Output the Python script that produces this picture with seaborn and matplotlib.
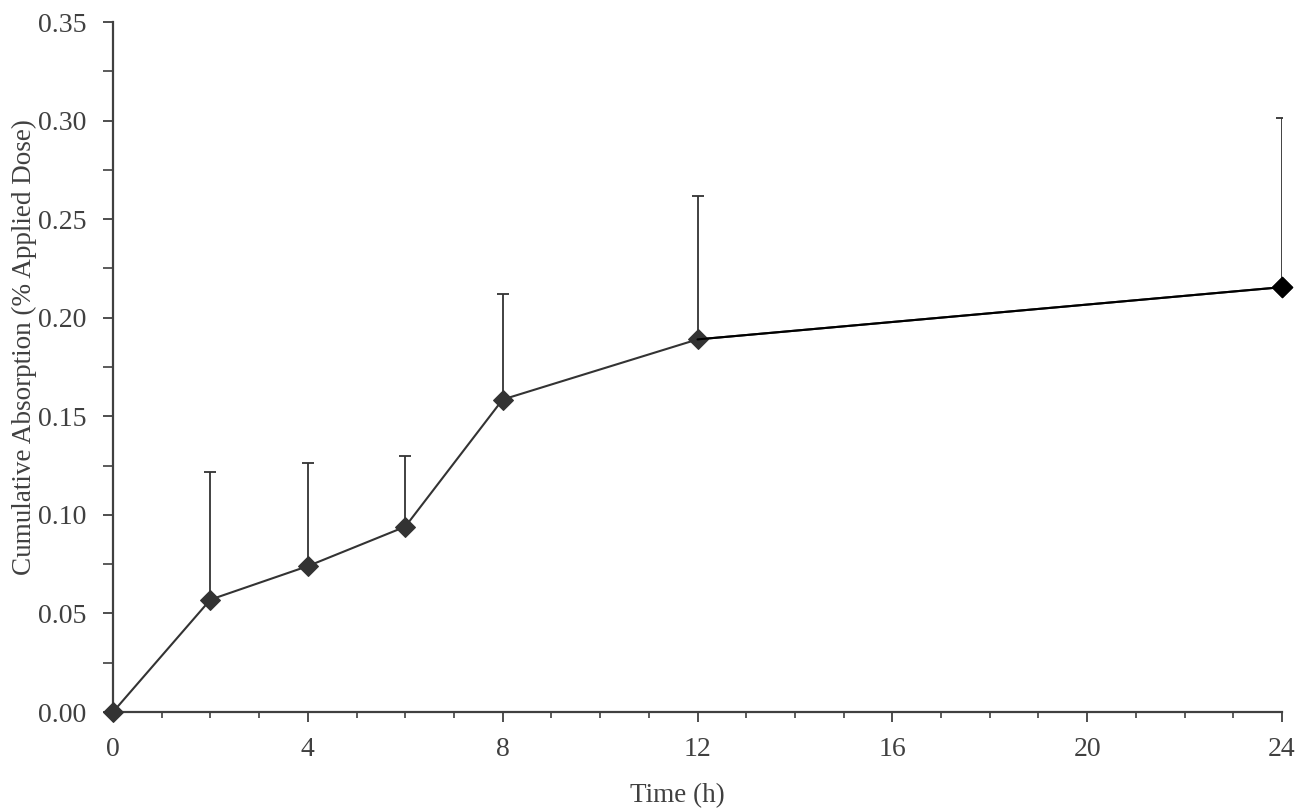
import matplotlib
matplotlib.use("Agg")
import matplotlib.pyplot as plt
from matplotlib.ticker import MultipleLocator, FixedLocator
import numpy as np
import pandas as pd
import seaborn as sns

# Data
time_h = [0, 2, 4, 6, 8, 12, 24]
absorption = [0.000, 0.0570, 0.0740, 0.0940, 0.1585, 0.1890, 0.2155]
upper_err_top = [0.000, 0.1218, 0.1262, 0.1300, 0.2118, 0.2618, 0.3015]
x_ticks = [0, 4, 8, 12, 16, 20, 24]
y_ticks = [0.00, 0.05, 0.10, 0.15, 0.20, 0.25, 0.30, 0.35]

df = pd.DataFrame({"Time (h)": time_h, "Absorption": absorption})
upper = np.array(upper_err_top) - np.array(absorption)
upper[upper < 0] = 0

sns.set_theme(style="white")
plt.rcParams["font.family"] = ["Liberation Serif", "DejaVu Serif"]

TXT = "#404040"
LINE = "#333333"

fig = plt.figure(figsize=(12.97, 8.08), dpi=100)
ax = fig.add_axes([113 / 1297, 96 / 808, (1282 - 113) / 1297, (712 - 22) / 808])

ax.errorbar(time_h, absorption, yerr=[np.zeros_like(upper), upper], fmt="none",
            ecolor=LINE, elinewidth=1.3, capsize=4.5, capthick=1.3, zorder=2)
sns.lineplot(data=df, x="Time (h)", y="Absorption", ax=ax, color=LINE,
             linewidth=1.5, marker="D", markersize=10.5, markeredgecolor=LINE,
             markerfacecolor=LINE, zorder=3, clip_on=False)
# last point appears pure black in the reference
sns.lineplot(data=df.iloc[-2:], x="Time (h)", y="Absorption", ax=ax, color="black",
             linewidth=1.5, zorder=3)
sns.scatterplot(data=df.iloc[-1:], x="Time (h)", y="Absorption", ax=ax, color="black",
                marker="D", s=110, edgecolor="black", zorder=4, clip_on=False)

ax.set_xlim(0, 24)
ax.set_ylim(0, 0.35)
ax.xaxis.set_major_locator(FixedLocator(x_ticks))
ax.xaxis.set_minor_locator(MultipleLocator(1))
ax.yaxis.set_major_locator(FixedLocator(y_ticks))
ax.yaxis.set_minor_locator(MultipleLocator(0.025))
ax.set_xticklabels([str(v) for v in x_ticks])
ax.set_yticklabels([f"{v:.2f}" for v in y_ticks])

for s in ["top", "right"]:
    ax.spines[s].set_visible(False)
for s in ["left", "bottom"]:
    ax.spines[s].set_color(TXT)
    ax.spines[s].set_linewidth(1.6)

ax.tick_params(axis="both", which="major", direction="out", length=7, width=1.3,
               colors=TXT, labelsize=20, labelcolor=TXT, bottom=True, left=True)
ax.tick_params(axis="x", which="major", pad=11)
ax.tick_params(axis="y", which="major", pad=12)
ax.tick_params(axis="x", which="minor", direction="out", length=4, width=1.2,
               colors=TXT, bottom=True)
ax.tick_params(axis="y", which="minor", direction="out", length=7, width=1.2,
               colors=TXT, left=True)

ax.set_xlabel("Time (h)", fontsize=19.5, color=TXT)
ax.set_ylabel("Cumulative Absorption (% Applied Dose)", fontsize=19.5, color=TXT)
ax.xaxis.set_label_coords((677 - 113) / 1169, (712 - 783) / 690)
ax.yaxis.set_label_coords((24 - 113) / 1169, (712 - 347) / 690)
ax.xaxis.label.set_va("top")
ax.yaxis.label.set_va("center")

ax.grid(False)
fig.savefig("out.png", dpi=100, facecolor="white")
